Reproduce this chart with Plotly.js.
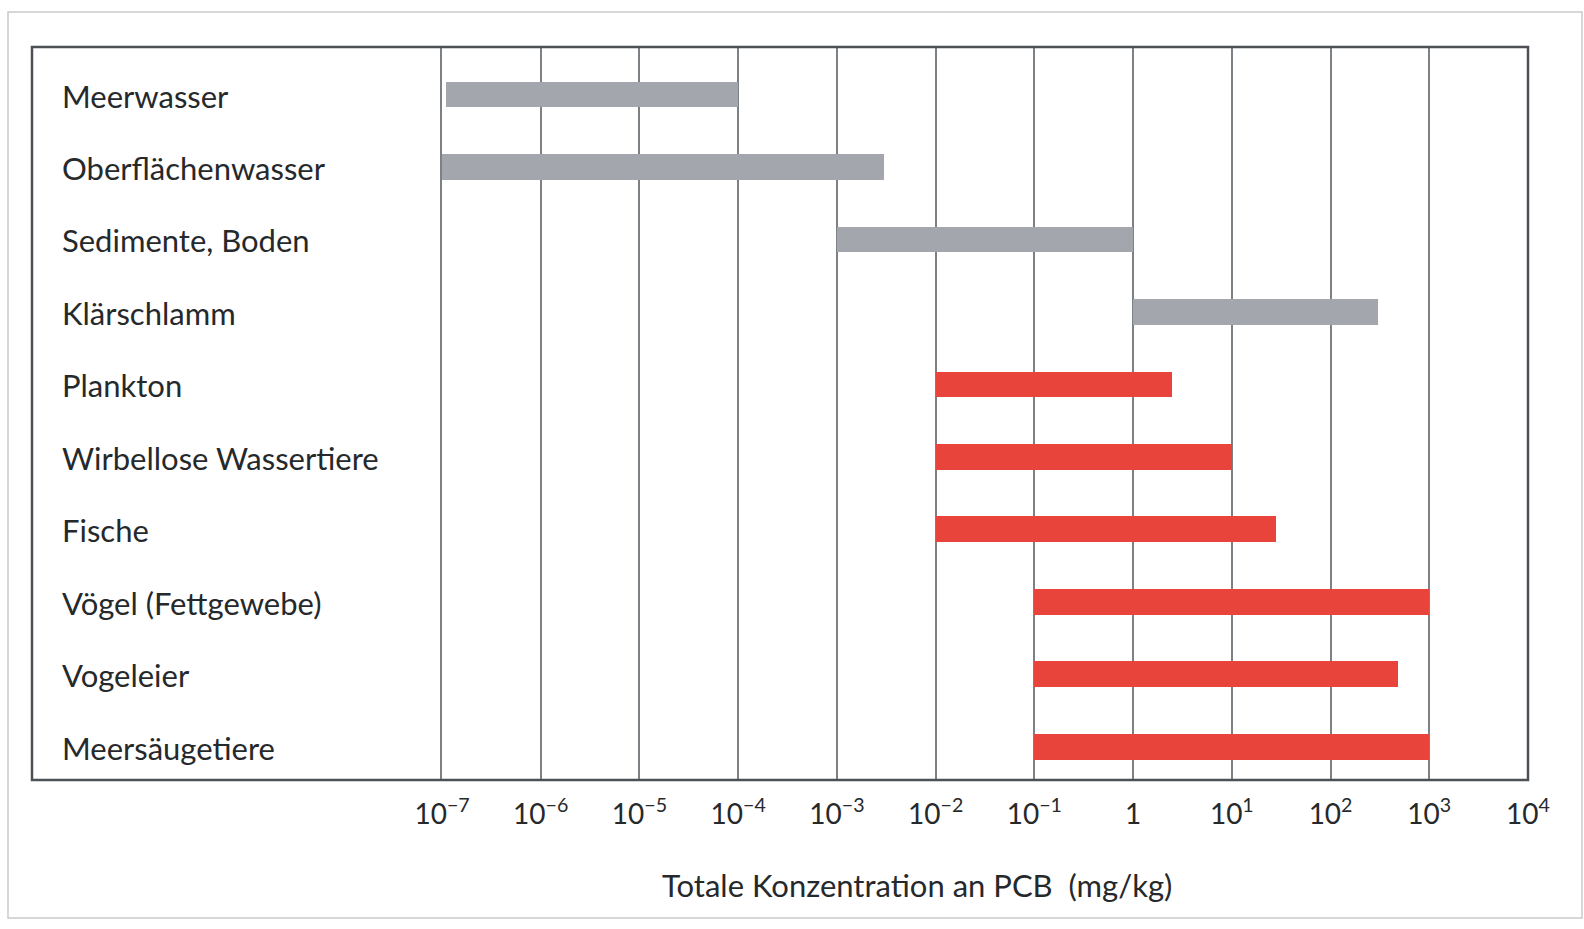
<!DOCTYPE html>
<html>
<head>
<meta charset="utf-8">
<script src="https://cdn.plot.ly/plotly-3.0.1.min.js"></script>
<style>
  html, body { margin: 0; padding: 0; background: #ffffff; }
  #chart { width: 1584px; height: 929px; }
</style>
</head>
<body>
<div id="chart"></div>
<script>
// ---- data ----
const categories = [
  "Meerwasser",
  "Oberflächenwasser",
  "Sedimente, Boden",
  "Klärschlamm",
  "Plankton",
  "Wirbellose Wassertiere",
  "Fische",
  "Vögel (Fettgewebe)",
  "Vogeleier",
  "Meersäugetiere"
];
const rangeLow  = [1.1e-7, 1e-7, 1e-3, 1,   1e-2, 1e-2, 1e-2, 0.1,  0.1, 0.1];
const rangeHigh = [1e-4,   3e-3, 1,    300, 2.5,  10,   28,   1000, 480, 1000];
const group     = ["abiotic","abiotic","abiotic","abiotic","biotic","biotic","biotic","biotic","biotic","biotic"];

const tickVals  = [1e-7, 1e-6, 1e-5, 1e-4, 1e-3, 1e-2, 1e-1, 1, 1e1, 1e2, 1e3, 1e4];
const tickText  = ["10<sup>−7</sup>","10<sup>−6</sup>","10<sup>−5</sup>","10<sup>−4</sup>",
                   "10<sup>−3</sup>","10<sup>−2</sup>","10<sup>−1</sup>","1",
                   "10<sup>1</sup>","10<sup>2</sup>","10<sup>3</sup>","10<sup>4</sup>"];
const xTitle = "Totale Konzentration an PCB&nbsp;&nbsp;(mg/kg)";

// ---- styles ----
const groupColor = { abiotic: "#a3a7ad", biotic: "#e8443b" };
const textColor = "#26292b";
const gridColor = "#7c8186";
const FONT = "Lato, 'Open Sans', sans-serif";

const trace = {
  type: "bar",
  orientation: "h",
  y: categories,
  base: rangeLow,
  x: rangeHigh.map((h, i) => h - rangeLow[i]),
  width: 0.355,
  marker: { color: group.map(g => groupColor[g]), line: { width: 0 } },
  hoverinfo: "skip",
  showlegend: false
};

// plot-area pixel geometry
const L = 442, R = 1528, T = 47, B = 780;
const W = R - L, H = B - T;
const px = x => (x - L) / W;
const py = y => (B - y) / H;

const annotations = categories.map(c => ({
  xref: "paper", yref: "y",
  x: px(60), y: c,
  xanchor: "left", yanchor: "middle",
  yshift: -1,
  text: c, showarrow: false,
  font: { family: FONT, size: 31, color: textColor }
}));
annotations.push({
  xref: "paper", yref: "paper",
  x: px(917), y: py(885),
  xanchor: "center", yanchor: "middle",
  text: xTitle, showarrow: false,
  font: { family: FONT, size: 31, color: textColor }
});

const layout = {
  width: 1584, height: 929,
  margin: { l: L, r: 1584 - R, t: T, b: 929 - B, pad: 0 },
  paper_bgcolor: "#ffffff",
  plot_bgcolor: "#ffffff",
  font: { family: FONT, color: textColor },
  bargap: 0,
  xaxis: {
    type: "log",
    range: [-7, 4],
    tickvals: tickVals,
    ticktext: tickText,
    ticks: "",
    showgrid: true,
    gridcolor: gridColor,
    gridwidth: 2,
    zeroline: false,
    showline: false,
    ticklabelstandoff: 15,
    tickfont: { family: FONT, size: 28, color: textColor },
    fixedrange: true
  },
  yaxis: {
    type: "category",
    categoryorder: "array",
    categoryarray: categories,
    range: [9.46, -0.656],
    showticklabels: false,
    showgrid: false,
    zeroline: false,
    showline: true,
    linecolor: gridColor,
    linewidth: 2,
    ticks: "",
    fixedrange: true
  },
  shapes: [
    { type: "rect", xref: "paper", yref: "paper",
      x0: px(32), x1: 1, y0: 0, y1: 1,
      line: { color: "#4d5155", width: 2.5 }, fillcolor: "rgba(0,0,0,0)", layer: "above" },
    { type: "rect", xref: "paper", yref: "paper",
      x0: px(8), x1: px(1582), y0: py(918), y1: py(12),
      line: { color: "#c9cacb", width: 1.5 }, fillcolor: "rgba(0,0,0,0)", layer: "below" }
  ],
  annotations: annotations
};

Plotly.newPlot("chart", [trace], layout, { displayModeBar: false, staticPlot: true });
</script>
</body>
</html>
